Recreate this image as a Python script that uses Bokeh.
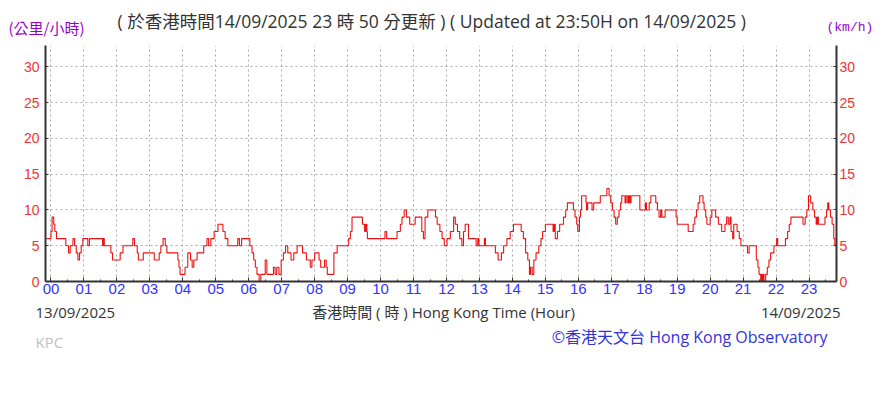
from bokeh.plotting import figure
from bokeh.layouts import column
from bokeh.models import Range1d, LinearAxis, FixedTicker, ColumnDataSource
from bokeh.core.properties import value
from bokeh.embed import file_html
from bokeh.resources import INLINE

# ---- data (minutes after 00:00 on 13/09/2025, wind speed km/h) ----
minutes = [-8, 0, 2, 5, 7, 10, 27, 32, 35, 40, 43, 46, 49, 52, 55, 58, 67, 70, 94, 95, 97, 109, 112,
           126, 131, 149, 152, 157, 159, 168, 188, 197, 200, 204, 208, 211, 231, 233, 235, 244, 249,
           254, 257, 260, 266, 278, 284, 287, 291, 297, 304, 313, 317, 322, 340, 343, 347, 362, 366,
           369, 372, 375, 379, 382, 390, 393, 405, 408, 411, 415, 419, 423, 427, 431, 437, 442, 448,
           458, 465, 472, 475, 480, 488, 491, 498, 501, 503, 515, 521, 542, 545, 548, 567, 571, 573,
           575, 576, 608, 611, 630, 636, 639, 643, 647, 653, 663, 675, 678, 681, 686, 700, 703, 708,
           712, 716, 721, 727, 733, 736, 740, 744, 748, 751, 754, 760, 774, 777, 779, 789, 791, 809,
           814, 820, 824, 830, 836, 842, 856, 860, 864, 868, 871, 873, 876, 879, 883, 888, 892, 895,
           900, 914, 916, 918, 922, 926, 933, 937, 940, 951, 954, 957, 959, 962, 964, 966, 974, 975,
           977, 985, 988, 1000, 1012, 1016, 1019, 1022, 1025, 1028, 1031, 1034, 1037, 1039, 1045,
           1047, 1050, 1052, 1054, 1056, 1072, 1082, 1084, 1089, 1092, 1101, 1104, 1107, 1110, 1112,
           1118, 1138, 1140, 1160, 1169, 1172, 1175, 1178, 1181, 1187, 1189, 1192, 1194, 1200, 1203,
           1210, 1215, 1221, 1227, 1230, 1233, 1236, 1238, 1241, 1243, 1249, 1253, 1256, 1268, 1271,
           1284, 1287, 1289, 1292, 1294, 1295, 1297, 1298, 1301, 1304, 1307, 1310, 1316, 1321, 1323,
           1337, 1341, 1344, 1347, 1369, 1373, 1376, 1379, 1383, 1387, 1390, 1393, 1395, 1397, 1409,
           1412, 1414, 1416, 1419, 1422, 1425, 1427, 1430]
speed = [6, 7, 9, 8, 7, 6, 5, 4, 5, 6, 5, 4, 3, 4, 5, 6, 5, 6, 5, 6, 5, 4, 3,
         4, 5, 6, 5, 4, 3, 4, 3, 4, 5, 6, 5, 4, 3, 2, 1, 2, 4,
         3, 2, 3, 4, 5, 6, 5, 6, 7, 8, 7, 6, 5, 6, 5, 6, 5, 4,
         3, 2, 1, 0, 1, 3, 1, 2, 1, 2, 1, 3, 4, 5, 4, 3, 4, 5,
         4, 3, 2, 3, 4, 3, 2, 3, 2, 1, 4, 5, 6, 7, 9, 8, 7, 8,
         7, 6, 7, 6, 7, 8, 9, 10, 9, 8, 9, 7, 6, 9, 10, 9, 8, 7,
         6, 5, 6, 7, 9, 8, 7, 6, 5, 7, 8, 6, 5, 6, 5, 6, 5, 4,
         3, 4, 5, 6, 7, 8, 7, 6, 4, 3, 1, 2, 1, 3, 4, 5, 6, 7,
         8, 7, 8, 6, 7, 8, 9, 10, 11, 10, 9, 8, 7, 9, 10, 12, 11, 10,
         11, 10, 11, 12, 13, 12, 11, 10, 9, 8, 9, 10, 11, 12, 11,
         12, 11, 12, 11, 12, 10, 11, 10, 11, 12, 11, 10, 9, 10, 9,
         10, 9, 8, 7, 8, 9, 10, 11, 12, 11, 10, 9, 8, 9, 10,
         9, 8, 7, 8, 9, 8, 9, 7, 6, 8, 7, 6, 5, 4, 5,
         3, 2, 1, 0, 1, 0, 1, 0, 1, 2, 3, 4, 5, 6, 5,
         6, 7, 8, 9, 8, 9, 10, 12, 11, 10, 9, 8, 9, 8, 9,
         10, 11, 10, 9, 8, 6, 5, 5]

hour_ticks = [h * 60 for h in range(24)]
hour_labels = ["%02d" % h for h in range(24)]
half_hours = [h * 60 + 30 for h in range(24)]
y_ticks = [0, 5, 10, 15, 20, 25, 30]
y_grid = [5, 10, 15, 20, 25, 30]

title_text = "( 於香港時間14/09/2025 23 時 50 分更新 ) ( Updated at 23:50H on 14/09/2025 )"
unit_zh = "(公里/小時)"
unit_en = "(km/h)"
date_start = "13/09/2025"
date_end = "14/09/2025"
axis_title = "香港時間 ( 時 )  Hong Kong Time (Hour)"
station = "KPC"
credit = "©香港天文台 Hong Kong Observatory"

MIX = "'Open Sans', 'Noto Sans CJK TC', sans-serif"
CJK = "Noto Sans CJK TC"
W = 881
FRAME_L, FRAME_R = 45, 836   # page x of the aligned plot frames


def blank(height):
    f = figure(width=W, height=height, x_range=Range1d(FRAME_L, FRAME_R), y_range=Range1d(height, 0),
               output_backend="svg", toolbar_location=None, x_axis_type=None, y_axis_type=None,
               min_border_left=FRAME_L, min_border_right=W - FRAME_R, min_border_top=0,
               min_border_bottom=0)
    f.outline_line_color = None
    f.grid.visible = False
    f.background_fill_color = "white"
    f.border_fill_color = "white"
    return f


def txt(f, x, y, text, size, color, align="left", font=MIX):
    f.text(x=[x], y=[y], text=[text], text_font=value(font), text_font_size=size,
           text_color=color, text_align=align, text_baseline="middle", level="overlay")


# ---- header ----
head = blank(40)
txt(head, 8, 27, unit_zh, "15px", "#9900cc", font=CJK)
txt(head, 117, 20, title_text, "17.5px", "#333333")
txt(head, 826, 27, unit_en, "13px", "#9900cc", font="Liberation Mono")

# ---- main chart ----
src = ColumnDataSource(dict(t=minutes, v=speed))
p = figure(frame_width=791, frame_height=236, x_range=Range1d(-10, 1430), y_range=Range1d(0, 33),
           output_backend="svg", toolbar_location=None,
           min_border_left=45, min_border_right=45, min_border_top=5, min_border_bottom=19)
p.outline_line_color = None
p.background_fill_color = "white"
p.border_fill_color = "white"

p.step("t", "v", source=src, mode="after", line_color="#ee1111", line_width=1.1)

axis_color = "#333333"
xa = p.xaxis[0]
xa.ticker = FixedTicker(ticks=hour_ticks, minor_ticks=half_hours)
xa.major_label_overrides = {t: l for t, l in zip(hour_ticks, hour_labels)}
xa.axis_line_color = axis_color
xa.axis_line_width = 2
xa.major_tick_in = 4
xa.major_tick_out = 0
xa.minor_tick_in = 2
xa.minor_tick_out = 0
xa.major_tick_line_color = axis_color
xa.minor_tick_line_color = axis_color
xa.major_label_text_color = "#3333ff"
xa.major_label_text_font = "Liberation Sans"
xa.major_label_text_font_size = "15px"
xa.major_label_standoff = 2

ya = p.yaxis[0]
ya.ticker = FixedTicker(ticks=y_ticks)
ra = LinearAxis(ticker=FixedTicker(ticks=y_ticks))
p.add_layout(ra, "right")
for a in (ya, ra):
    a.axis_line_color = axis_color
    a.axis_line_width = 2
    a.major_tick_in = 3
    a.major_tick_out = 0
    a.minor_tick_line_color = None
    a.major_tick_line_color = axis_color
    a.major_label_text_color = "#ee3333"
    a.major_label_text_font = "Liberation Sans"
    a.major_label_text_font_size = "14px"
ya.major_label_standoff = 6
ra.major_label_standoff = 3

p.xgrid.ticker = FixedTicker(ticks=hour_ticks)
p.ygrid.ticker = FixedTicker(ticks=y_grid)
for g in (p.xgrid, p.ygrid):
    g.grid_line_color = "#aaaaaa"
    g.grid_line_dash = "2 3"
    g.grid_line_width = 1

# ---- footer ----
foot = blank(89)
txt(foot, 35, 11, date_start, "15px", "#333333")
txt(foot, 445, 11, axis_title, "15px", "#333333", align="center")
txt(foot, 840, 11, date_end, "15px", "#333333", align="right")
txt(foot, 35, 41, station, "15px", "#c0c0c0")
txt(foot, 827, 36, credit, "16px", "#3333dd", align="right")

layout = column(head, p, foot, spacing=0)
open("out.html", "w").write(file_html(layout, INLINE))
